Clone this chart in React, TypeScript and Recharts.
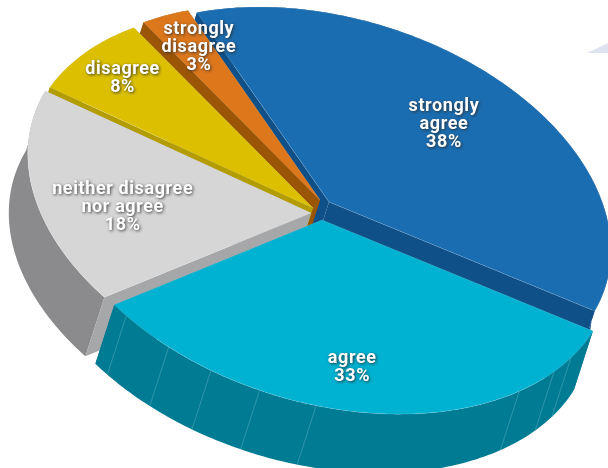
import React from "react";
import { PieChart, Pie, Cell } from "recharts";

// Data, drawn back to front, counter-clockwise on screen
const categories = ["strongly agree", "strongly disagree", "disagree", "neither disagree nor agree", "agree"];
const labelLines = [["strongly", "agree"], ["strongly", "disagree"], ["disagree"], ["neither disagree", "nor agree"], ["agree"]];
const shares = [38.2, 3, 7.8, 17.8, 33.2];

// Styling
const topColors = ["#1b6db1", "#dc771c", "#dcc000", "#d6d6d6", "#00b2d2"];
const innerColors = ["#0f5089", "#9a5507", "#b39c00", "#a6a7a9", "#007b94"];
const outerColors = ["#0f5089", "#9a5507", "#b39c00", "#8b8b8d", "#007b94"];
const explodeX = [9, 0, -7, -9, 2];
const explodeY = [-6, -8, 0, 5, 12];
// the rim of each slice is slightly off-centre from its apex in the oblique view
const rimOffU = [0, 0, 0, 0.0057, 0.025];
const rimOffV = [0, 0, 0, -0.0545, -0.011];
const rimScale = [1, 1, 1.015, 1.01, 1];
const labelRadius = [0.667, 0.827, 0.857, 0.683, 0.753];
const labelNudgeX = [-8, 7, 2, 2, -9];
const labelNudgeY = [-4.5, -1, 0, 5.5, -0.5];
const rimSeams = [29.7, 35.7, 46.1, 91.2, 103, 113.7, 123.8, 135.4];

// Oblique view of the round pie
const VIEW = { xx: 282, yx: 48.4, yy: 188.9 };
const DEPTH = { x: -19, y: 59 };
const BASE_CX = 320;
const BASE_CY = 208;
const RADIUS = 180;

const project = (cx: number, cy: number, angle: number, f: number, du = 0, dv = 0) => {
  const t = (-angle * Math.PI) / 180;
  const cu = Math.cos(t);
  const cv = Math.sin(t);
  const dot = cu * du + cv * dv;
  const r = dot + Math.sqrt(dot * dot - du * du - dv * dv + 1);
  const u = cu * f * r;
  const v = cv * f * r;
  return { x: cx + VIEW.xx * u, y: cy + VIEW.yx * u + VIEW.yy * v };
};
const toPath = (pts: { x: number; y: number }[]) =>
  "M" + pts.map((p) => `${p.x.toFixed(2)},${p.y.toFixed(2)}`).join("L") + "Z";
const shift = (p: { x: number; y: number }) => ({ x: p.x + DEPTH.x, y: p.y + DEPTH.y });

const SliceShape = (props: any) => {
  const { cx, cy, startAngle, endAngle, fill, index } = props;
  const i = typeof index === "number" ? index : topColors.indexOf(fill);
  const ox = cx + explodeX[i];
  const oy = cy + explodeY[i];
  const steps = Math.max(2, Math.ceil(Math.abs(endAngle - startAngle)));
  const rim: { x: number; y: number }[] = [];
  for (let s = 0; s <= steps; s++) {
    rim.push(project(ox, oy, startAngle + ((endAngle - startAngle) * s) / steps, rimScale[i], rimOffU[i], rimOffV[i]));
  }
  const apex = { x: ox, y: oy };
  const first = rim[0];
  const last = rim[rim.length - 1];
  const outer = toPath([...rim, ...rim.map(shift).reverse()]);
  return (
    <g>
      <path d={outer} fill={outerColors[i]} />
      <path d={toPath([apex, first, shift(first), shift(apex)])} fill={innerColors[i]} />
      <path d={toPath([apex, last, shift(last), shift(apex)])} fill={innerColors[i]} />
      {i === 4 &&
        rimSeams.map((a) => {
          const p = project(ox, oy, -a, rimScale[i], rimOffU[i], rimOffV[i]);
          const q = shift(p);
          return <line key={a} x1={p.x} y1={p.y} x2={q.x} y2={q.y} stroke="#4fa6b8" strokeWidth={0.6} />;
        })}
      <path d={toPath([apex, ...rim])} fill={fill} stroke="#ffffff" strokeOpacity={0.25} strokeWidth={0.6} />
    </g>
  );
};

const SliceLabel = (props: any) => {
  const { cx, cy, midAngle, index } = props;
  const p = project(cx + explodeX[index], cy + explodeY[index], midAngle, labelRadius[index]);
  const lines = [...labelLines[index], `${Math.round(shares[index])}%`];
  const lh = 18;
  const x = p.x + labelNudgeX[index];
  const y0 = p.y + labelNudgeY[index] - ((lines.length - 1) * lh) / 2;
  return (
    <text
      textAnchor="middle"
      fontFamily="Roboto, sans-serif"
      fontWeight={700}
      fontSize={18}
      letterSpacing={0.6}
      fill="#ffffff"
      style={{ filter: "drop-shadow(1px 1.5px 1.5px rgba(40,40,40,0.85))" }}
    >
      {lines.map((l, k) => (
        <tspan key={k} x={x} y={y0 + k * lh + 6}>
          {l}
        </tspan>
      ))}
    </text>
  );
};

const chartData = categories.map((name, i) => ({ name, value: shares[i] }));

export default function App() {
  return (
    <div style={{ position: "absolute", left: 0, top: 0, width: 608, height: 468, overflow: "hidden", background: "#fff" }}>
      <PieChart width={608} height={468} margin={{ top: 0, right: 0, bottom: 0, left: 0 }}>
        <polygon points="587,53 608,43 608,53" fill="#dfe2ef" />
        <Pie
          data={chartData}
          dataKey="value"
          nameKey="name"
          cx={BASE_CX}
          cy={BASE_CY}
          innerRadius={0}
          outerRadius={RADIUS}
          startAngle={-19.6}
          endAngle={340.4}
          stroke="none"
          isAnimationActive={false}
          shape={SliceShape}
          activeShape={SliceShape}
          inactiveShape={SliceShape}
          label={SliceLabel}
          labelLine={false}
        >
          {chartData.map((d, i) => (
            <Cell key={d.name} fill={topColors[i]} />
          ))}
        </Pie>
      </PieChart>
    </div>
  );
}
